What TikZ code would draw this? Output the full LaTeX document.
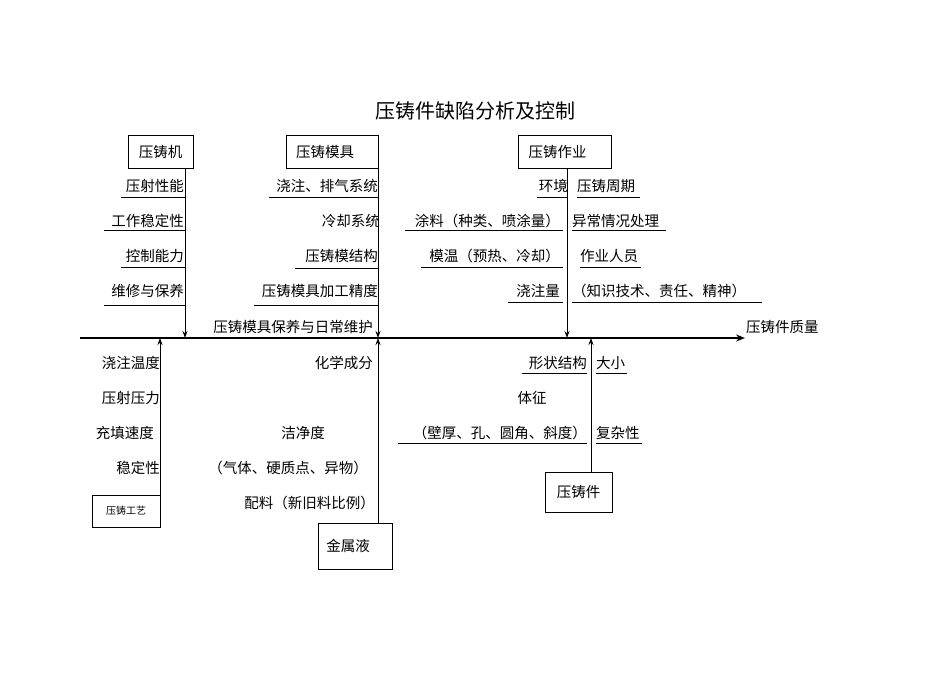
\documentclass[tikz,border=0pt]{standalone}
\usepackage{fontspec}
\setmainfont{Noto Sans CJK SC}
\usetikzlibrary{arrows.meta}
\begin{document}
\begin{tikzpicture}[x=1pt,y=-1pt,
  lbl/.style={inner sep=0pt,font=\fontsize{14.5}{16}\selectfont},
  bx/.style={draw,thick,inner sep=0pt,font=\fontsize{14.5}{16}\selectfont},
  ul/.style={line width=0.8pt},
  bone/.style={line width=1pt,-{Stealth[length=7pt,width=5pt]}}]
\useasboundingbox (0,0) rectangle (950,672);
\node[font=\fontsize{20}{22}\selectfont] (title) at (475,111) {压铸件缺陷分析及控制};
% spine
\coordinate (s0) at (80,338); \coordinate (s1) at (745,338);
\draw[line width=2pt,-{Stealth[length=9pt,width=7pt]}] (s0) -- (s1);
\node[lbl,anchor=west] (q) at (746,327) {压铸件质量};
% 压铸机
\node[bx,minimum width=65pt,minimum height=33pt] (m1) at (160.5,151.5) {压铸机};
\coordinate (m1t) at (185,168); \coordinate (m1e) at (185,338);
\draw[bone] (m1t) -- (m1e);
\foreach \t/\y/\u/\x in {压射性能/186/197/121,工作稳定性/221/230/104,控制能力/256/267/121,维修与保养/291/305/104}{
  \node[lbl,anchor=east] at (184,\y) {\t};
  \draw[ul] (\x,\u) -- (185,\u);}
% 压铸模具
\node[bx,minimum width=92pt,minimum height=33pt] (m2) at (332,151.5) {\hspace*{-14pt}压铸模具};
\coordinate (m2t) at (378,168); \coordinate (m2e) at (378,338);
\draw[bone] (m2t) -- (m2e);
\foreach \t/\y/\u/\x in {浇注、排气系统/186/197/269,压铸模结构/256/268/295,压铸模具加工精度/291/305/254}{
  \node[lbl,anchor=east] at (378,\y) {\t};
  \draw[ul] (\x,\u) -- (378,\u);}
\node[lbl,anchor=east] at (380,221) {冷却系统};
\node[lbl,anchor=east] at (373,327) {压铸模具保养与日常维护};
% 压铸作业
\node[bx,minimum width=93pt,minimum height=33pt] (m3) at (564.5,151.5) {\hspace*{-14pt}压铸作业};
\coordinate (m3t) at (567,168); \coordinate (m3e) at (567,338);
\draw[bone] (m3t) -- (m3e);
\node[lbl,anchor=east] at (568,186) {环境};
\draw[ul] (537,197) -- (568,197);
\foreach \t/\y/\u/\x in {涂料（种类、喷涂量）/221/230/405,模温（预热、冷却）/256/267/421,浇注量/291/302/508}{
  \node[lbl,anchor=east] at (560,\y) {\t};
  \draw[ul] (\x,\u) -- (563,\u);}
\foreach \t/\y/\u/\x/\e in {压铸周期/186/197/577/640,异常情况处理/221/230/572/666,作业人员/256/267/580/641,（知识技术、责任、精神）/291/302/572/762}{
  \node[lbl,anchor=west] at (\x,\y) {\t};
  \draw[ul] (\x,\u) -- (\e,\u);}
% 压铸工艺
\node[draw,thin,minimum width=68pt,minimum height=32pt,inner sep=0pt,font=\fontsize{10}{12}\selectfont] (m4) at (126,511) {压铸工艺};
\coordinate (m4t) at (160,495); \coordinate (m4e) at (160,338);
\draw[bone] (m4t) -- (m4e);
\foreach \t/\y/\x in {浇注温度/363/160,压射压力/398/160,充填速度/433/154,稳定性/468/160}{
  \node[lbl,anchor=east] at (\x,\y) {\t};}
% 金属液
\node[bx,minimum width=74pt,minimum height=46pt] (m5) at (355,546) {\hspace*{-14pt}金属液};
\coordinate (m5t) at (378,523); \coordinate (m5e) at (378,338);
\draw[bone] (m5t) -- (m5e);
\node[lbl,anchor=east] at (373,363) {化学成分};
\node[lbl] at (303,433) {洁净度};
\node[lbl] at (288,468) {（气体、硬质点、异物）};
\node[lbl,anchor=east] at (375,503) {配料（新旧料比例）};
% 压铸件
\node[bx,minimum width=67pt,minimum height=40pt] (m6) at (578.5,492) {压铸件};
\coordinate (m6t) at (591,472); \coordinate (m6e) at (591,338);
\draw[bone] (m6t) -- (m6e);
\node[lbl,anchor=east] at (587,363) {形状结构};
\draw[ul] (522,373) -- (587,373);
\node[lbl,anchor=west] at (596,363) {大小};
\draw[ul] (596,373) -- (627,373);
\node[lbl] at (532,398) {体征};
\node[lbl,anchor=east] at (587,433) {（壁厚、孔、圆角、斜度）};
\draw[ul] (398,443) -- (587,443);
\node[lbl,anchor=west] at (596,433) {复杂性};
\draw[ul] (596,443) -- (642,443);
\end{tikzpicture}
\end{document}
